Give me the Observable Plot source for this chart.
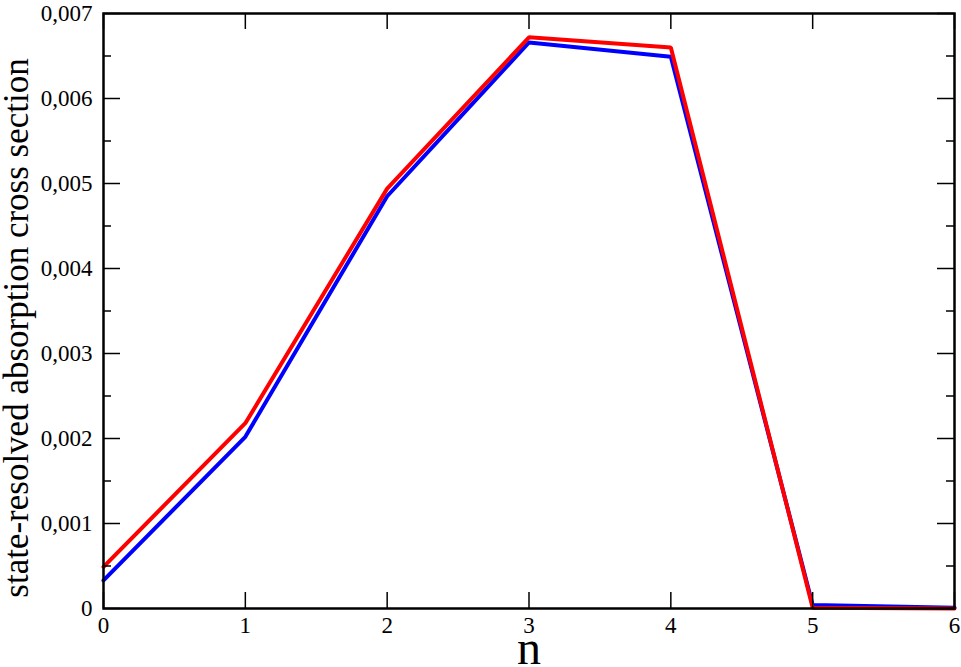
<!DOCTYPE html>
<html>
<head>
<meta charset="utf-8">
<script src="https://cdn.jsdelivr.net/npm/d3@7"></script>
<script src="https://cdn.jsdelivr.net/npm/@observablehq/plot@0.6"></script>
<style>
  html, body { margin: 0; padding: 0; background: #fff; }
  #chart svg { display: block; }
</style>
</head>
<body>
<div id="chart"></div>
<script>
const nValues = [0, 1, 2, 3, 4, 5, 6];
const redValues = [0.00049, 0.00218, 0.00494, 0.00672, 0.00660, 0.00001, 0.0];
const blueValues = [0.00033, 0.00202, 0.00485, 0.00666, 0.00649, 0.00004, 0.00001];
const xTicks = [0, 1, 2, 3, 4, 5, 6];
const yMajorTicks = [0, 0.001, 0.002, 0.003, 0.004, 0.005, 0.006, 0.007];
const yMinorTicks = [0.0005, 0.0015, 0.0025, 0.0035, 0.0045, 0.0055, 0.0065];
const xLabel = "n";
const yLabel = "state-resolved absorption cross section";

const W = 961, H = 667;
const mL = 103, mR = 7, mT = 13, mB = 59;
const plotH = H - mT - mB;
const plotW = W - mL - mR;
const serif = "Liberation Serif";

const red = nValues.map((n, i) => ({n, v: redValues[i]}));
const blue = nValues.map((n, i) => ({n, v: blueValues[i]}));
const fmt = d => d === 0 ? "0" : d.toFixed(3).replace(".", ",");

const chart = Plot.plot({
  width: W, height: H,
  marginLeft: mL, marginRight: mR, marginTop: mT, marginBottom: mB,
  style: {fontFamily: serif, background: "#fff"},
  x: {domain: [0, 6], axis: null},
  y: {domain: [0, 0.007], axis: null},
  marks: [
    Plot.line(blue, {x: "n", y: "v", stroke: "#0000ff", strokeWidth: 4, strokeLinejoin: "miter"}),
    Plot.line(red, {x: "n", y: "v", stroke: "#ff0000", strokeWidth: 4, strokeLinejoin: "miter"}),
    Plot.tickX(xTicks, {x: d => d, stroke: "#000", strokeWidth: 1.5, insetTop: plotH - 16}),
    Plot.tickX(xTicks, {x: d => d, stroke: "#000", strokeWidth: 1.5, insetBottom: plotH - 16}),
    Plot.tickY(yMajorTicks, {y: d => d, stroke: "#000", strokeWidth: 1.5, insetRight: plotW - 17}),
    Plot.tickY(yMajorTicks, {y: d => d, stroke: "#000", strokeWidth: 1.5, insetLeft: plotW - 17}),
    Plot.tickY(yMinorTicks, {y: d => d, stroke: "#000", strokeWidth: 1.5, insetRight: plotW - 8}),
    Plot.tickY(yMinorTicks, {y: d => d, stroke: "#000", strokeWidth: 1.5, insetLeft: plotW - 8}),
    Plot.text(xTicks, {x: d => d, frameAnchor: "bottom", dy: 8, lineAnchor: "top", text: d => String(d),
      fontSize: 23, fontFamily: serif, fill: "#000"}),
    Plot.text(yMajorTicks, {y: d => d, frameAnchor: "left", dx: -11, textAnchor: "end", text: fmt,
      fontSize: 23, fontFamily: serif, fill: "#000"}),
    Plot.frame({stroke: "#000", strokeWidth: 2.5})
  ]
});

const svg = d3.select(chart);
svg.append("text")
  .attr("x", mL + plotW / 2 + 0.5).attr("y", 664)
  .attr("text-anchor", "middle")
  .style("font-family", serif)
  .attr("font-size", 48).attr("fill", "#000")
  .text(xLabel);
svg.append("text")
  .attr("transform", `translate(28, 328) rotate(-90)`)
  .attr("text-anchor", "middle")
  .style("font-family", serif)
  .attr("font-size", 35).attr("fill", "#000")
  .text(yLabel);

document.getElementById("chart").appendChild(chart);
</script>
</body>
</html>
